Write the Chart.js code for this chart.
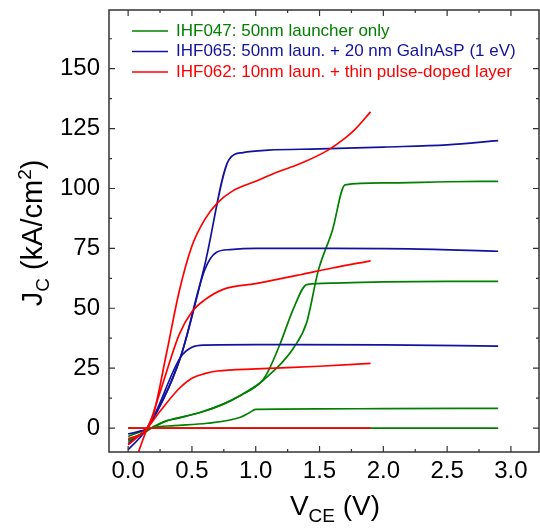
<!DOCTYPE html>
<html>
<head>
<meta charset="utf-8">
<script src="https://cdn.jsdelivr.net/npm/chart.js@4.4.1/dist/chart.umd.min.js"></script>
<style>
  html, body { margin: 0; padding: 0; background: #fff; }
</style>
</head>
<body>
<canvas id="jv" width="540" height="528"></canvas>
<script>
// legend text + axis ticks
const legendLabels = [
  "IHF047: 50nm launcher only",
  "IHF065: 50nm laun. + 20 nm GaInAsP (1 eV)",
  "IHF062: 10nm laun. + thin pulse-doped layer"
];
const xTicks = [0, 0.5, 1.0, 1.5, 2.0, 2.5, 3.0];
const yTicks = [0, 25, 50, 75, 100, 125, 150];

// IHF047 (green)
const g1V = [0, 0.1, 0.2, 0.3, 0.36, 0.57, 0.75, 0.88, 1.04, 1.1, 1.2, 1.3, 1.4, 1.49, 1.6, 1.7, 2.0, 2.5, 2.9];
const g1J = [-5, -2.5, 0.5, 3, 3.8, 6.6, 10.1, 13.6, 19.1, 21.9, 27, 33.7, 44.2, 65.7, 82.4, 101.5, 102.3, 102.8, 103];
const g2V = [0, 0.1, 0.2, 0.3, 0.36, 0.57, 0.75, 0.88, 1.04, 1.1, 1.19, 1.3, 1.4, 1.6, 2.0, 2.5, 2.9];
const g2J = [-5.5, -2.8, 0.5, 3, 3.8, 6.6, 10.1, 13.6, 19.1, 24, 35, 50.4, 59.9, 60.5, 61, 61.2, 61.2];
const g3V = [0, 0.1, 0.2, 0.36, 0.62, 0.88, 0.95, 1.0, 1.5, 2.0, 2.9];
const g3J = [-3.5, -1.5, 0.3, 1, 2, 4.5, 6.4, 7.8, 8, 8.1, 8.2];
const g4V = [0, 2.9];
const g4J = [0, 0];

// IHF065 (blue)
const b1V = [0, 0.1, 0.15, 0.41, 0.6, 0.79, 0.9, 1.1, 1.5, 2.0, 2.5, 2.9];
const b1J = [-9, -3.5, 0, 29.5, 68, 112, 115, 116, 116.5, 117.3, 118.2, 120];
const b2V = [0, 0.1, 0.15, 0.41, 0.6, 0.69, 0.8, 1.0, 1.6, 2.2, 2.9];
const b2J = [-6.5, -2.5, 0, 29.5, 66, 73.3, 74.5, 75, 75, 74.8, 73.8];
const b3V = [0, 0.1, 0.15, 0.41, 0.5, 0.6, 1.0, 2.0, 2.9];
const b3J = [-2.5, -1.2, 0, 29.5, 33.7, 34.6, 34.8, 34.7, 34.2];

// IHF062 (red)
const r1V = [0, 0.15, 0.2, 0.3, 0.4, 0.5, 0.6, 0.7, 0.82, 1.0, 1.16, 1.35, 1.56, 1.7, 1.78, 1.9];
const r1J = [-22.5, 0, 6, 31, 57, 76, 87, 94, 99, 103, 106.7, 110.4, 115.8, 121, 124.8, 132];
const r2V = [0, 0.15, 0.25, 0.4, 0.5, 0.6, 0.75, 1.0, 1.35, 1.6, 1.9];
const r2J = [-4.5, 0, 15, 39, 48.5, 53.5, 58, 60.3, 64, 66.8, 69.8];
const r3V = [0, 0.15, 0.25, 0.4, 0.5, 0.6, 0.7, 1.0, 1.5, 1.9];
const r3J = [-7, 0, 7, 16.5, 20.8, 22.7, 23.8, 24.7, 25.8, 27];
const r4V = [0, 1.9];
const r4J = [0, 0];

const colors = ["#008000", "#12129e", "#ff0000"];
const fontFam = "'Liberation Sans', Arial, sans-serif";

const curves = [
  [g1V, g1J, 0], [g2V, g2J, 0], [g3V, g3J, 0], [g4V, g4J, 0],
  [b1V, b1J, 1], [b2V, b2J, 1], [b3V, b3J, 1],
  [r1V, r1J, 2], [r2V, r2J, 2], [r3V, r3J, 2], [r4V, r4J, 2]
];

const datasets = curves.map(([vs, js, s]) => ({
  label: legendLabels[s],
  data: vs.map((v, i) => ({ x: v, y: js[i] })),
  borderColor: colors[s],
  borderWidth: 1.7,
  pointRadius: 0,
  fill: false,
  cubicInterpolationMode: "monotone",
  order: 3 - s   // red on top
}));

// draw text in pieces (sub/superscripts)
function drawParts(ctx, parts, cx, baseY) {
  let total = 0;
  parts.forEach(p => {
    ctx.font = p.size + "px " + fontFam;
    p.w = ctx.measureText(p.t).width;
    total += p.w;
  });
  let x = cx - total / 2;
  parts.forEach(p => {
    ctx.font = p.size + "px " + fontFam;
    ctx.fillText(p.t, x, baseY + (p.dy || 0));
    x += p.w;
  });
}

// no extra label padding, the plot box is fixed by layout.padding
function noPad(s) {
  s.paddingTop = 0; s.paddingBottom = 0;
  s.paddingLeft = 0; s.paddingRight = 0;
}

const framePlugin = {
  id: "frame",
  afterDraw(chart) {
    const { ctx, chartArea: a, scales } = chart;
    const x = scales.x, y = scales.y;
    ctx.save();

    // frame
    ctx.strokeStyle = "#333";
    ctx.lineWidth = 1.5;
    ctx.strokeRect(a.left, a.top, a.right - a.left, a.bottom - a.top);

    // inward ticks, mirrored on top/right
    ctx.lineWidth = 1.2;
    ctx.beginPath();
    for (let k = 0; k <= 13; k++) {
      const v = k * 0.25;
      const px = x.getPixelForValue(v);
      if (px < a.left || px > a.right) continue;
      const len = k % 2 === 0 ? 6 : 3;
      ctx.moveTo(px, a.bottom); ctx.lineTo(px, a.bottom - len);
      ctx.moveTo(px, a.top); ctx.lineTo(px, a.top + len);
    }
    for (let k = 0; k <= 14; k++) {
      const v = k * 12.5;
      const py = y.getPixelForValue(v);
      if (py < a.top || py > a.bottom) continue;
      const len = k % 2 === 0 ? 6 : 3;
      ctx.moveTo(a.left, py); ctx.lineTo(a.left + len, py);
      ctx.moveTo(a.right, py); ctx.lineTo(a.right - len, py);
    }
    ctx.stroke();

    // legend inside the plot
    ctx.textBaseline = "middle";
    ctx.textAlign = "left";
    ctx.font = "17px " + fontFam;
    const rows = [31, 51.5, 72];
    legendLabels.forEach((txt, i) => {
      ctx.strokeStyle = colors[i];
      ctx.lineWidth = 1.7;
      ctx.beginPath();
      ctx.moveTo(132, rows[i]); ctx.lineTo(168, rows[i]);
      ctx.stroke();
      ctx.fillStyle = colors[i];
      ctx.fillText(txt, 176, rows[i]);
    });

    // axis titles
    ctx.fillStyle = "#000";
    ctx.textBaseline = "alphabetic";
    drawParts(ctx, [
      { t: "V", size: 28 },
      { t: "CE", size: 19, dy: 7 },
      { t: " (V)", size: 28 }
    ], 335, 515);

    ctx.translate(42, 233);
    ctx.rotate(-Math.PI / 2);
    drawParts(ctx, [
      { t: "J", size: 29 },
      { t: "C", size: 19, dy: 7 },
      { t: " (kA/cm", size: 29 },
      { t: "2", size: 19, dy: -11 },
      { t: ")", size: 29 }
    ], 0, 0);

    ctx.restore();
  }
};

new Chart(document.getElementById("jv"), {
  type: "line",
  data: { datasets },
  options: {
    responsive: false,
    animation: false,
    devicePixelRatio: 1,
    layout: { padding: { top: 10, right: 1, left: 0, bottom: 0 } },
    plugins: { legend: { display: false }, tooltip: { enabled: false } },
    scales: {
      x: {
        type: "linear",
        min: -0.15,
        max: 3.22,
        afterFit(s) { s.height = 76; noPad(s); },
        afterBuildTicks(s) { s.ticks = xTicks.map(v => ({ value: v })); },
        ticks: {
          color: "#000",
          font: { size: 24, family: fontFam },
          padding: 5,
          maxRotation: 0,
          autoSkip: false,
          callback: v => v.toFixed(1)
        },
        grid: { display: false, drawTicks: false },
        border: { display: false }
      },
      y: {
        type: "linear",
        min: -10,
        max: 174.5,
        afterFit(s) { s.width = 109; noPad(s); },
        afterBuildTicks(s) { s.ticks = yTicks.map(v => ({ value: v })); },
        ticks: {
          color: "#000",
          font: { size: 24, family: fontFam },
          padding: 9,
          autoSkip: false,
          callback: v => String(v)
        },
        grid: { display: false, drawTicks: false },
        border: { display: false }
      }
    }
  },
  plugins: [framePlugin]
});
</script>
</body>
</html>
